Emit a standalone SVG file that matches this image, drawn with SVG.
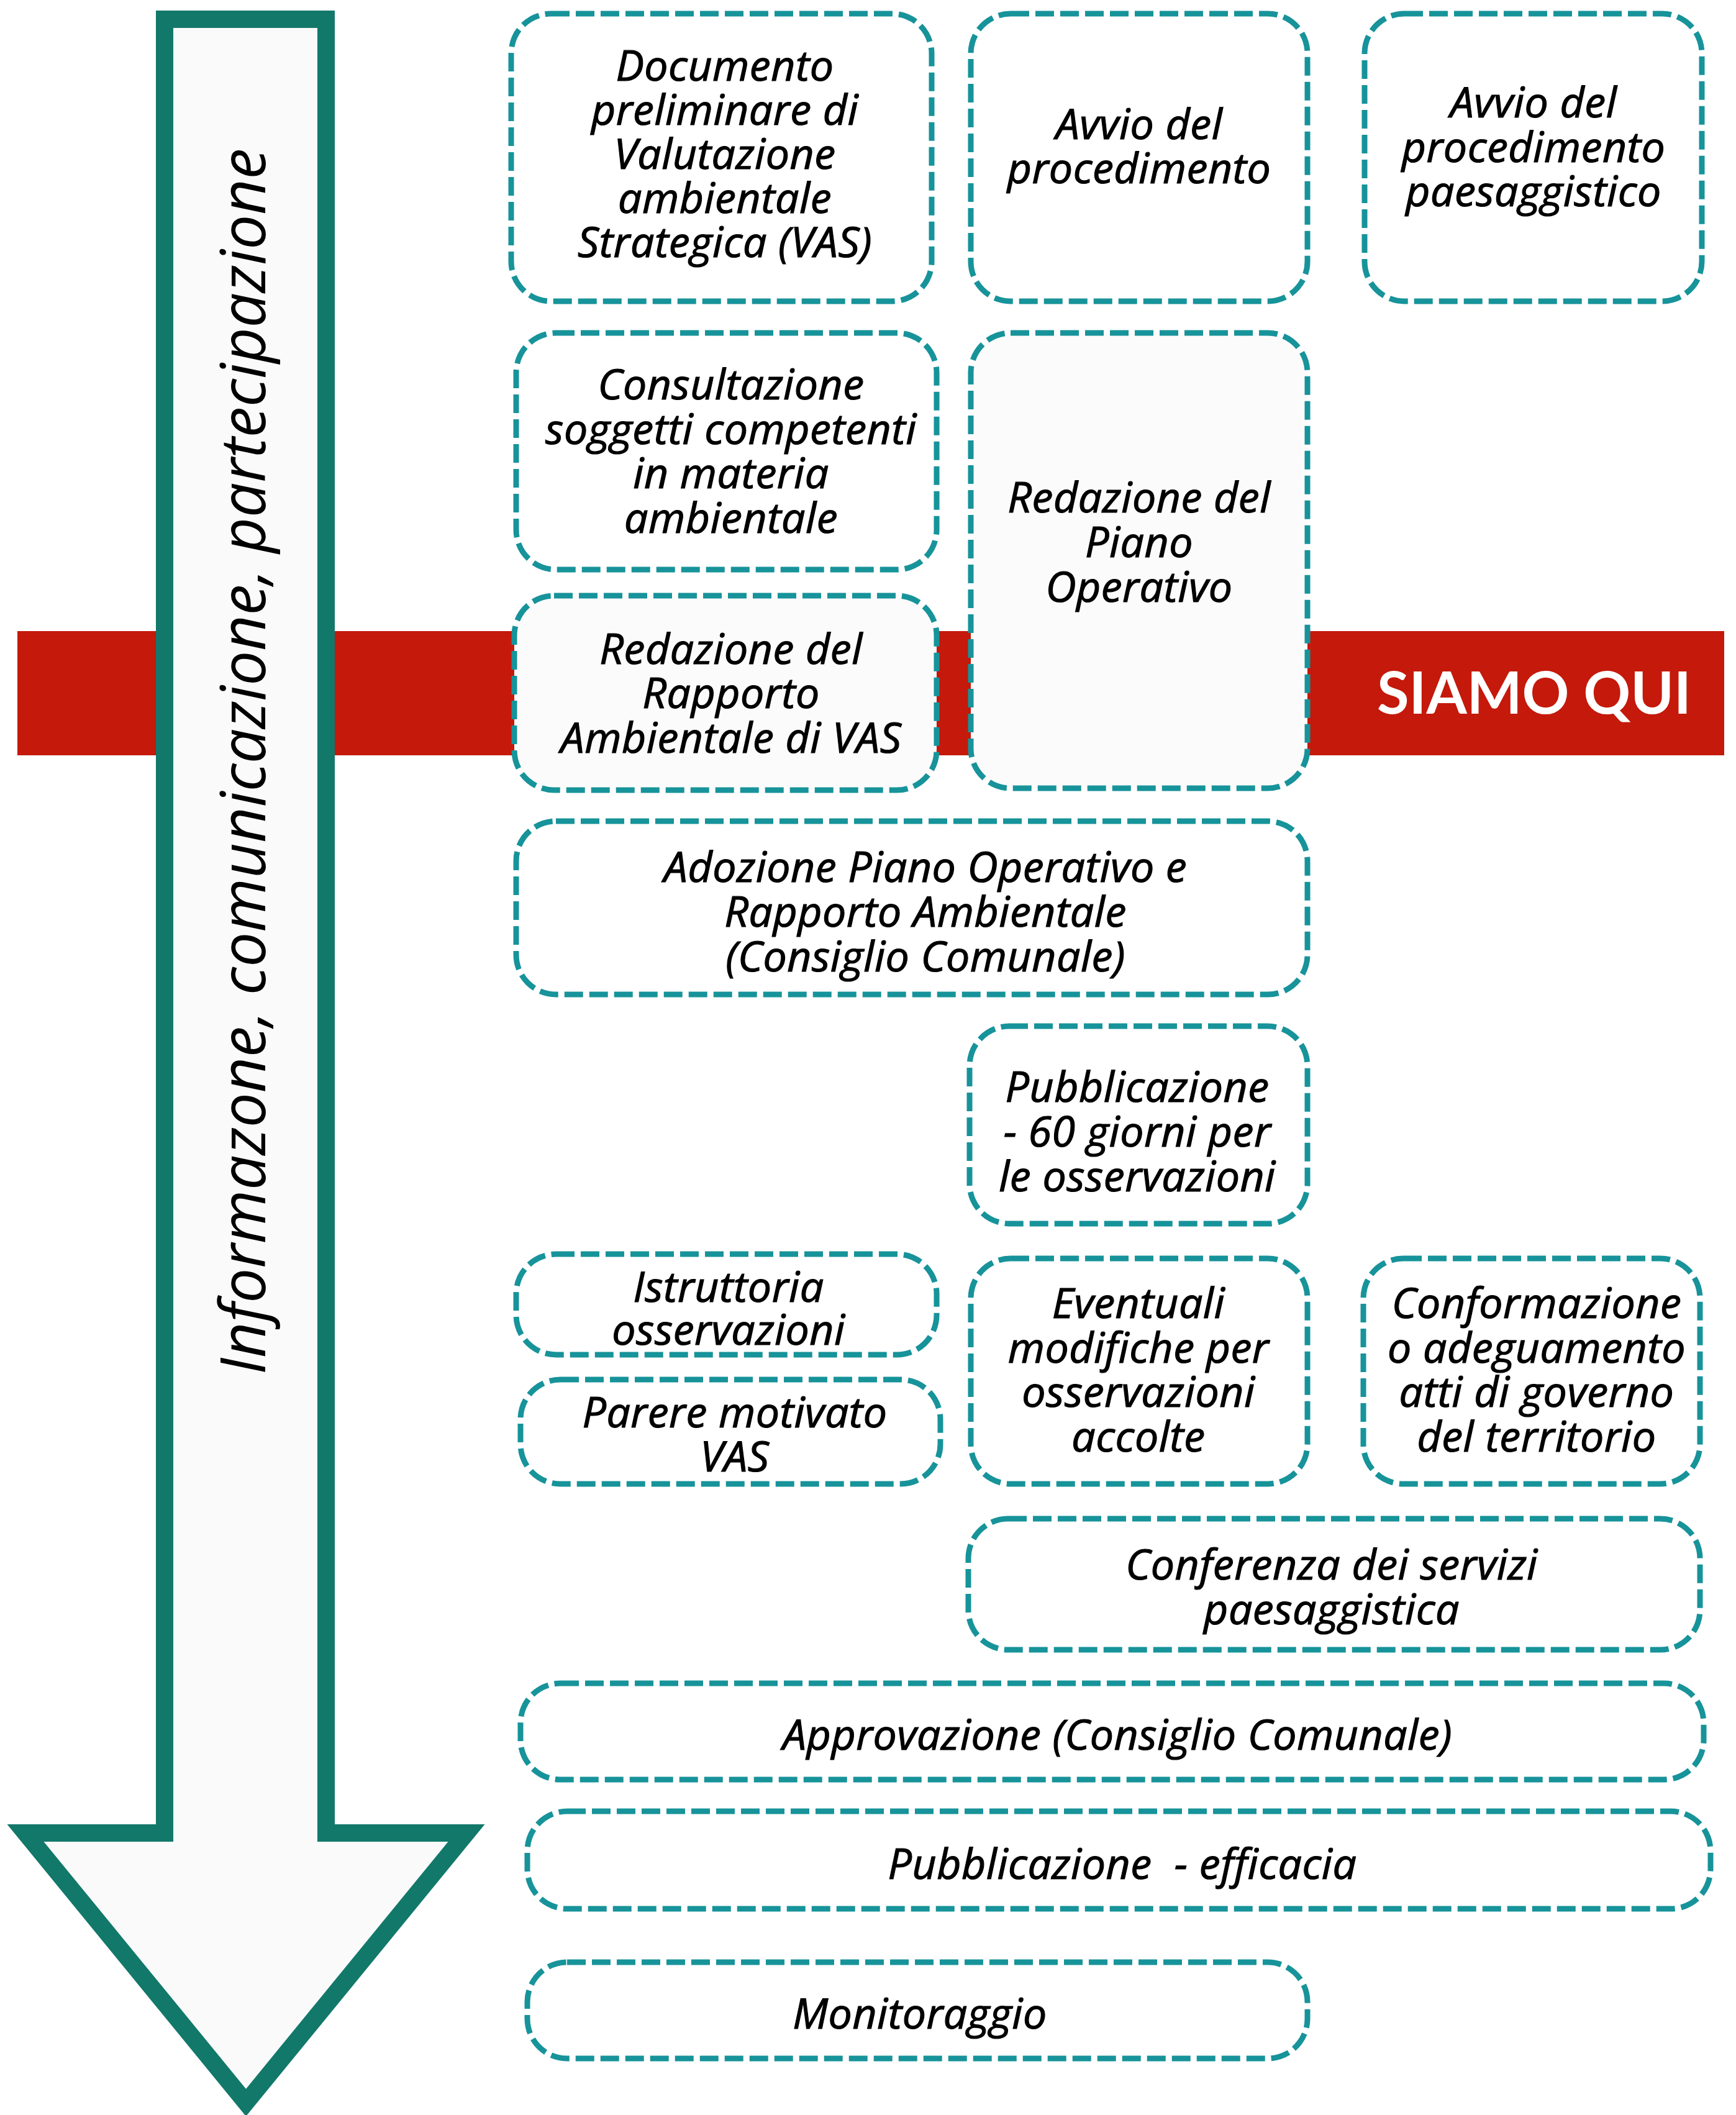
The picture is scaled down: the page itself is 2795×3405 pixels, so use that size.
<svg xmlns="http://www.w3.org/2000/svg" width="2795" height="3405" viewBox="0 0 2795 3405">
<defs>
<style>
.box{fill:#fff;stroke:#17939a;stroke-width:9;stroke-dasharray:30 10;}
.lt{fill:#fbfbfb;}
.t{font-family:"Open Sans","Noto Sans","DejaVu Sans",sans-serif;font-style:italic;font-size:68px;letter-spacing:0.5px;fill:#000;stroke:#000;stroke-width:1.2px;text-anchor:middle;}
.side{font-family:"Open Sans","Noto Sans","DejaVu Sans",sans-serif;font-style:italic;font-size:100px;fill:#000;}
.here{font-family:"Lato","Liberation Sans",sans-serif;font-weight:700;font-size:94px;fill:#fff;text-anchor:middle;}
</style>
</defs>
<rect width="2795" height="3405" fill="#fff"/>
<g id="band">
<rect x="28" y="1016" width="2748" height="200" fill="#c4190b"/>
<text class="here" x="2470" y="1149">SIAMO QUI</text>
</g>
<g id="arrow">
<polygon points="265,31 525,31 525,2951 751,2951 396,3385 41,2951 265,2951" fill="#fafafa" stroke="#12786a" stroke-width="28" stroke-linejoin="miter" stroke-miterlimit="6"/>
<text class="side" transform="translate(427,2213) rotate(-90)" x="0" y="0" textLength="1974" lengthAdjust="spacingAndGlyphs">Informazone, comunicazione, partecipazione</text>
</g>
<g id="connectors"></g>
<g id="n1">
<rect class="box" x="823" y="22" width="677" height="463" rx="64"/>
<text class="t"><tspan x="1167" y="130">Documento</tspan><tspan x="1167" y="201">preliminare di</tspan><tspan x="1167" y="272">Valutazione</tspan><tspan x="1167" y="343">ambientale</tspan><tspan x="1167" y="414">Strategica (VAS)</tspan></text>
</g>
<g id="n2">
<rect class="box" x="1563" y="22" width="542" height="463" rx="64"/>
<text class="t"><tspan x="1834" y="224">Avvio del</tspan><tspan x="1834" y="295">procedimento</tspan></text>
</g>
<g id="n3">
<rect class="box" x="2197" y="22" width="543" height="463" rx="64"/>
<text class="t"><tspan x="2469" y="189">Avvio del</tspan><tspan x="2469" y="261">procedimento</tspan><tspan x="2469" y="332">paesaggistico</tspan></text>
</g>
<g id="n4">
<rect class="box" x="831" y="536" width="677" height="381" rx="64"/>
<text class="t"><tspan x="1177" y="643">Consultazione</tspan><tspan x="1177" y="715">soggetti competenti</tspan><tspan x="1177" y="786">in materia</tspan><tspan x="1177" y="858">ambientale</tspan></text>
</g>
<g id="n5">
<rect class="box lt" x="1563" y="536" width="542" height="733" rx="64"/>
<text class="t"><tspan x="1834" y="825">Redazione del</tspan><tspan x="1834" y="897">Piano</tspan><tspan x="1834" y="969">Operativo</tspan></text>
</g>
<g id="n6">
<rect class="box lt" x="828" y="959" width="680" height="313" rx="64"/>
<text class="t"><tspan x="1177" y="1069">Redazione del</tspan><tspan x="1177" y="1140">Rapporto</tspan><tspan x="1177" y="1212">Ambientale di VAS</tspan></text>
</g>
<g id="n7">
<rect class="box" x="831" y="1322" width="1274" height="279" rx="64"/>
<text class="t"><tspan x="1490" y="1420">Adozione Piano Operativo e</tspan><tspan x="1490" y="1492">Rapporto Ambientale</tspan><tspan x="1490" y="1564">(Consiglio Comunale)</tspan></text>
</g>
<g id="n8">
<rect class="box" x="1561" y="1652" width="544" height="318" rx="64"/>
<text class="t"><tspan x="1831" y="1774">Pubblicazione</tspan><tspan x="1831" y="1846">- 60 giorni per</tspan><tspan x="1831" y="1918">le osservazioni</tspan></text>
</g>
<g id="n9">
<rect class="box" x="831" y="2019" width="677" height="162" rx="64"/>
<text class="t"><tspan x="1173" y="2096">Istruttoria</tspan><tspan x="1173" y="2165">osservazioni</tspan></text>
</g>
<g id="n10">
<rect class="box" x="838" y="2221" width="676" height="168" rx="64"/>
<text class="t"><tspan x="1183" y="2298">Parere motivato</tspan><tspan x="1183" y="2369">VAS</tspan></text>
</g>
<g id="n11">
<rect class="box" x="1563" y="2026" width="542" height="363" rx="64"/>
<text class="t"><tspan x="1833" y="2122">Eventuali</tspan><tspan x="1833" y="2194">modifiche per</tspan><tspan x="1833" y="2265">osservazioni</tspan><tspan x="1833" y="2337">accolte</tspan></text>
</g>
<g id="n12">
<rect class="box" x="2195" y="2026" width="542" height="363" rx="64"/>
<text class="t"><tspan x="2474" y="2122">Conformazione</tspan><tspan x="2474" y="2194">o adeguamento</tspan><tspan x="2474" y="2265">atti di governo</tspan><tspan x="2474" y="2337">del territorio</tspan></text>
</g>
<g id="n13">
<rect class="box" x="1559" y="2445" width="1178" height="211" rx="64"/>
<text class="t"><tspan x="2144" y="2543">Conferenza dei servizi</tspan><tspan x="2144" y="2615">paesaggistica</tspan></text>
</g>
<g id="n14">
<rect class="box" x="838" y="2710" width="1905" height="155" rx="64"/>
<text class="t" x="1799" y="2817">Approvazione (Consiglio Comunale)</text>
</g>
<g id="n15">
<rect class="box" x="849" y="2916" width="1905" height="157" rx="64"/>
<text class="t" x="1807" y="3025" xml:space="preserve">Pubblicazione  - efficacia</text>
</g>
<g id="n16">
<rect class="box" x="849" y="3159" width="1256" height="155" rx="64"/>
<text class="t" x="1481" y="3266">Monitoraggio</text>
</g>
</svg>
